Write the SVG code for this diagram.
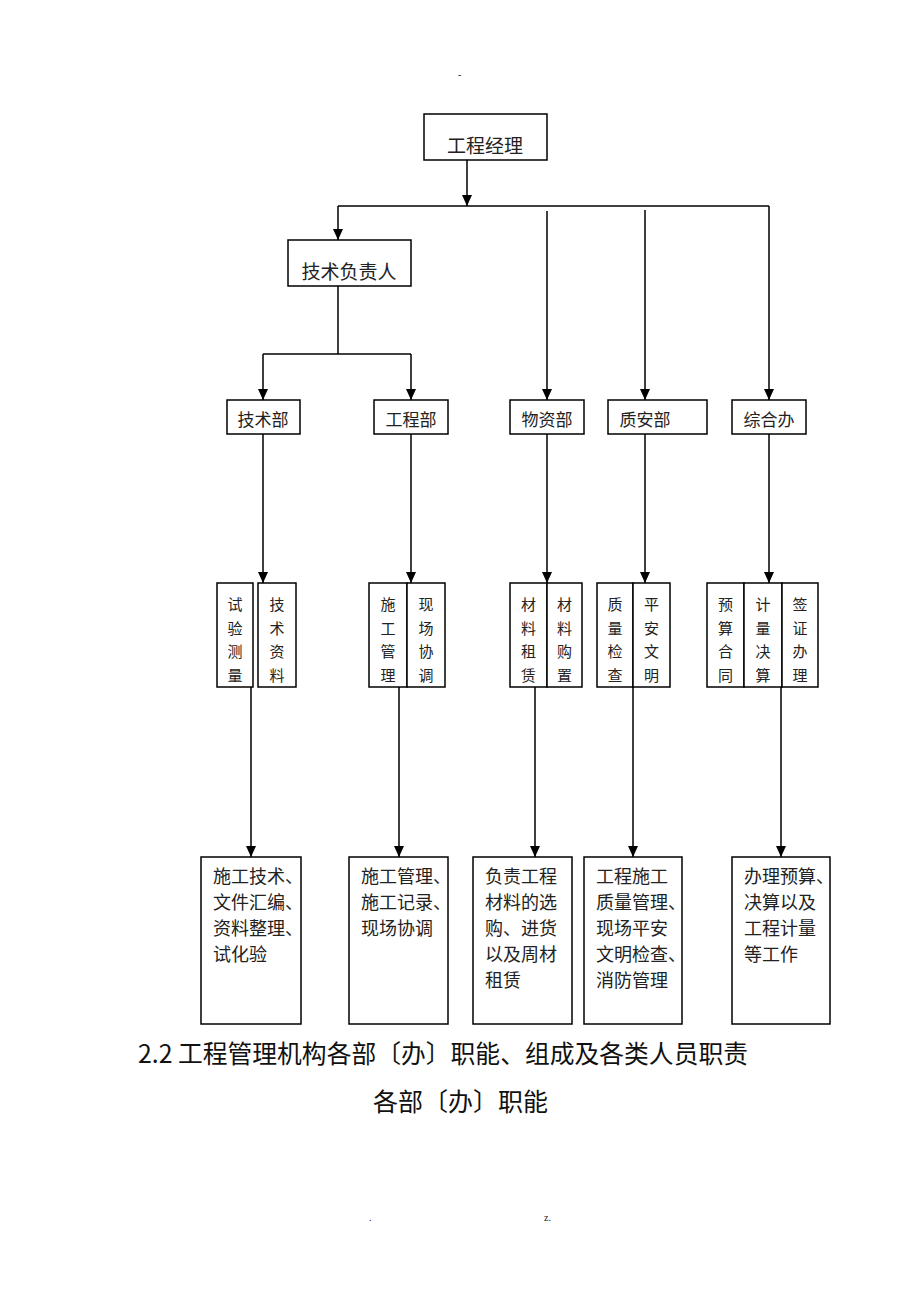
<svg xmlns="http://www.w3.org/2000/svg" width="920" height="1302" viewBox="0 0 920 1302">
<defs>
<marker id="ah" markerUnits="userSpaceOnUse" markerWidth="12" markerHeight="10" refX="11" refY="5" orient="auto" viewBox="0 0 12 10">
<path d="M0,0 L11,5 L0,10 Z" fill="#000"/>
</marker>
</defs>
<style>
rect{fill:#fff;stroke:#000;stroke-width:1.5}
.c line,.c polyline{stroke:#000;stroke-width:1.5;fill:none}
.a{marker-end:url(#ah)}
text{font-family:"Noto Sans CJK SC","Noto Sans CJK JP",sans-serif;fill:#222}
.t1{font-size:19px;text-anchor:middle;dominant-baseline:central}
.t2{font-size:17px;text-anchor:middle;dominant-baseline:central}
.v{font-size:15px;text-anchor:middle;dominant-baseline:central}
.b{font-size:18px}
.h{font-size:25px;font-weight:400;fill:#111}
.s{font-size:10px;font-family:"Liberation Serif",serif}
</style>
<rect x="0" y="0" width="920" height="1302" style="fill:#fff;stroke:none"/>
<text class="s" x="458" y="78">-</text>

<g class="c" id="connectors">
<line class="a" x1="467" y1="160" x2="467" y2="206"/>
<line x1="338" y1="206" x2="769" y2="206"/>
<line class="a" x1="338" y1="206" x2="338" y2="240"/>
<line class="a" x1="547" y1="211" x2="547" y2="400"/>
<line class="a" x1="645" y1="210" x2="645" y2="400"/>
<line class="a" x1="769" y1="206" x2="769" y2="400"/>
<line x1="338" y1="286" x2="338" y2="354"/>
<line x1="263" y1="354" x2="411" y2="354"/>
<line class="a" x1="263" y1="354" x2="263" y2="400"/>
<line class="a" x1="411" y1="354" x2="411" y2="400"/>
<line class="a" x1="263" y1="434" x2="263" y2="583"/>
<line class="a" x1="411" y1="434" x2="411" y2="583"/>
<line class="a" x1="547" y1="434" x2="547" y2="583"/>
<line class="a" x1="645" y1="434" x2="645" y2="583"/>
<line class="a" x1="769" y1="434" x2="769" y2="583"/>
<line class="a" x1="251" y1="687" x2="251" y2="857"/>
<line class="a" x1="399" y1="687" x2="399" y2="857"/>
<line class="a" x1="535" y1="687" x2="535" y2="857"/>
<line class="a" x1="633" y1="687" x2="633" y2="857"/>
<line class="a" x1="781" y1="687" x2="781" y2="857"/>
</g>

<g id="n-gcjl"><rect x="424" y="114" width="123" height="46"/><text class="t1" x="485" y="144">工程经理</text></g>
<g id="n-jsfzr"><rect x="288" y="240" width="123" height="46"/><text class="t1" x="349" y="270">技术负责人</text></g>

<g id="n-jsb"><rect x="227" y="400" width="73" height="34"/><text class="t2" x="263" y="418">技术部</text></g>
<g id="n-gcb"><rect x="374" y="400" width="74" height="34"/><text class="t2" x="411" y="418">工程部</text></g>
<g id="n-wzb"><rect x="510" y="400" width="74" height="34"/><text class="t2" x="547" y="418">物资部</text></g>
<g id="n-zab"><rect x="608" y="400" width="99" height="34"/><text class="t2" x="645" y="418">质安部</text></g>
<g id="n-zhb"><rect x="732" y="400" width="74" height="34"/><text class="t2" x="769" y="418">综合办</text></g>

<g id="n-syc"><rect x="217" y="583" width="36" height="104"/>
<text class="v" x="235" y="603">试</text><text class="v" x="235" y="627">验</text><text class="v" x="235" y="650">测</text><text class="v" x="235" y="674">量</text></g>
<g id="n-jszl"><rect x="258" y="583" width="38" height="104"/>
<text class="v" x="277" y="603">技</text><text class="v" x="277" y="627">术</text><text class="v" x="277" y="650">资</text><text class="v" x="277" y="674">料</text></g>
<g id="n-sggl"><rect x="369" y="583" width="38" height="104"/>
<text class="v" x="388" y="603">施</text><text class="v" x="388" y="627">工</text><text class="v" x="388" y="650">管</text><text class="v" x="388" y="674">理</text></g>
<g id="n-xcxt"><rect x="407" y="583" width="38" height="104"/>
<text class="v" x="426" y="603">现</text><text class="v" x="426" y="627">场</text><text class="v" x="426" y="650">协</text><text class="v" x="426" y="674">调</text></g>
<g id="n-clzl"><rect x="510" y="583" width="37" height="104"/>
<text class="v" x="528.5" y="603">材</text><text class="v" x="528.5" y="627">料</text><text class="v" x="528.5" y="650">租</text><text class="v" x="528.5" y="674">赁</text></g>
<g id="n-clgz"><rect x="547" y="583" width="35" height="104"/>
<text class="v" x="564.5" y="603">材</text><text class="v" x="564.5" y="627">料</text><text class="v" x="564.5" y="650">购</text><text class="v" x="564.5" y="674">置</text></g>
<g id="n-zljc"><rect x="597" y="583" width="36" height="104"/>
<text class="v" x="615" y="603">质</text><text class="v" x="615" y="627">量</text><text class="v" x="615" y="650">检</text><text class="v" x="615" y="674">查</text></g>
<g id="n-pawm"><rect x="633" y="583" width="37" height="104"/>
<text class="v" x="651.5" y="603">平</text><text class="v" x="651.5" y="627">安</text><text class="v" x="651.5" y="650">文</text><text class="v" x="651.5" y="674">明</text></g>
<g id="n-ysht"><rect x="707" y="583" width="37" height="104"/>
<text class="v" x="725.5" y="603">预</text><text class="v" x="725.5" y="627">算</text><text class="v" x="725.5" y="650">合</text><text class="v" x="725.5" y="674">同</text></g>
<g id="n-jljs"><rect x="744" y="583" width="38" height="104"/>
<text class="v" x="763" y="603">计</text><text class="v" x="763" y="627">量</text><text class="v" x="763" y="650">决</text><text class="v" x="763" y="674">算</text></g>
<g id="n-qzbl"><rect x="782" y="583" width="36" height="104"/>
<text class="v" x="800" y="603">签</text><text class="v" x="800" y="627">证</text><text class="v" x="800" y="650">办</text><text class="v" x="800" y="674">理</text></g>

<g id="n-d1"><rect x="201" y="857" width="100" height="167"/>
<text class="b" x="213" y="883">施工技术、<tspan x="213" dy="26">文件汇编、</tspan><tspan x="213" dy="26">资料整理、</tspan><tspan x="213" dy="26">试化验</tspan></text></g>
<g id="n-d2"><rect x="349" y="857" width="99" height="167"/>
<text class="b" x="361" y="883">施工管理、<tspan x="361" dy="26">施工记录、</tspan><tspan x="361" dy="26">现场协调</tspan></text></g>
<g id="n-d3"><rect x="473" y="857" width="99" height="167"/>
<text class="b" x="485" y="883">负责工程<tspan x="485" dy="26">材料的选</tspan><tspan x="485" dy="26">购、进货</tspan><tspan x="485" dy="26">以及周材</tspan><tspan x="485" dy="26">租赁</tspan></text></g>
<g id="n-d4"><rect x="584" y="857" width="98" height="167"/>
<text class="b" x="596" y="883">工程施工<tspan x="596" dy="26">质量管理、</tspan><tspan x="596" dy="26">现场平安</tspan><tspan x="596" dy="26">文明检查、</tspan><tspan x="596" dy="26">消防管理</tspan></text></g>
<g id="n-d5"><rect x="732" y="857" width="98" height="167"/>
<text class="b" x="744" y="883">办理预算、<tspan x="744" dy="26">决算以及</tspan><tspan x="744" dy="26">工程计量</tspan><tspan x="744" dy="26">等工作</tspan></text></g>

<text class="h" x="138" y="1063" textLength="610" lengthAdjust="spacingAndGlyphs">2.2 工程管理机构各部〔办〕职能、组成及各类人员职责</text>
<text class="h" x="373" y="1111" textLength="175" lengthAdjust="spacing">各部〔办〕职能</text>
<text class="s" x="369" y="1221">.</text>
<text class="s" x="544" y="1221">z.</text>
</svg>
